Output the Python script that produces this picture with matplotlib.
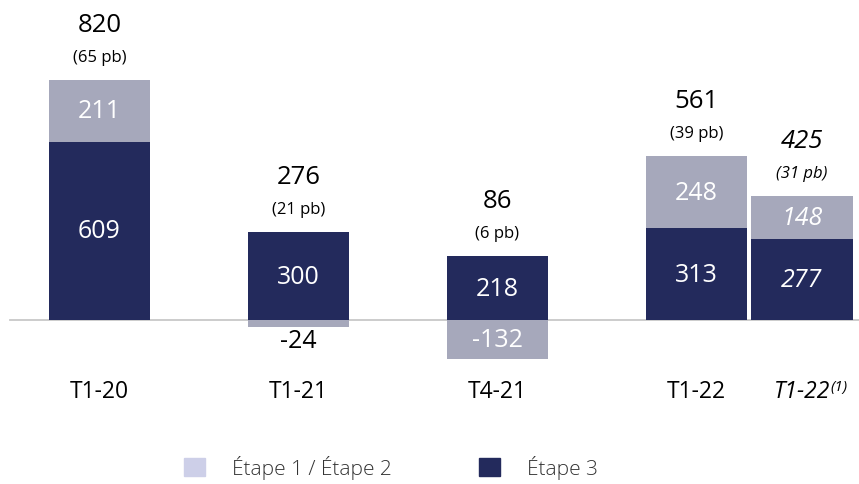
import matplotlib.pyplot as plt
from matplotlib.patches import Patch

plt.rcParams['font.family'] = ['Open Sans', 'DejaVu Sans']

# Data
periods = ['T1-20', 'T1-21', 'T4-21', 'T1-22', 'T1-22']
etape12 = [211, -24, -132, 248, 148]
etape3 = [609, 300, 218, 313, 277]
totals = [820, 276, 86, 561, 425]
pb = [65, 21, 6, 39, 31]
italic = [False, False, False, False, True]

xpos = [0, 1, 2, 3, 3.53]
dark = '#232A5C'
grey = '#A6A8BB'
legend_light = '#CDCFE8'

fig = plt.figure(figsize=(8.59, 4.85), dpi=100)
ax = fig.add_axes([0, 0, 1, 1])
ax.set_xlim(-0.5, 3.8166)
ax.set_ylim(-560.3, 1096.7)
ax.axis('off')

w = 0.508
ax.plot([-0.45, 3.8166], [0, 0], color='#C8C8C8', lw=1.3, zorder=1)

for i, x in enumerate(xpos):
    s3 = etape3[i]
    s12 = etape12[i]
    st = 'italic' if italic[i] else 'normal'
    ax.bar(x, s3, width=w, color=dark, zorder=2)
    if s12 >= 0:
        ax.bar(x, s12, bottom=s3, width=w, color=grey, zorder=2)
        top = s3 + s12
        ax.text(x, s3 + s12 / 2, str(s12), ha='center', va='center',
                color='white', fontsize=18, style=st)
    else:
        ax.bar(x, s12, width=w, color=grey, zorder=2)
        top = s3
        if s12 < -60:
            ax.text(x, s12 / 2, str(s12), ha='center', va='center',
                    color='white', fontsize=18, style=st)
        else:
            ax.annotate(str(s12), (x, s12), xytext=(0, -10), textcoords='offset points',
                        ha='center', va='center', fontsize=18, color='black')
    ax.text(x, s3 / 2, str(s3), ha='center', va='center', color='white',
            fontsize=18, style=st)

    ax.annotate(str(totals[i]), (x, top), xytext=(0, 40), textcoords='offset points',
                ha='center', va='center', fontsize=18.5, style=st)
    ax.annotate('(%d pb)' % pb[i], (x, top), xytext=(0, 16.5), textcoords='offset points',
                ha='center', va='center', fontsize=12, style=st)

    t = ax.text(x, -243, periods[i], ha='center', va='center', fontsize=16.5, style=st)
    if italic[i]:
        ax.annotate('(1)', xy=(1.0, 1.0), xycoords=t, ha='left', va='top',
                    fontsize=11, style='italic')

handles = [Patch(color=legend_light), Patch(color=dark)]
fig.legend(handles, ['Étape 1 / Étape 2', 'Étape 3'], loc='center',
           bbox_to_anchor=(0.455, 0.035), ncol=2, frameon=False,
           handlelength=1.0, handleheight=1.0, handletextpad=1.3,
           columnspacing=4.2, prop={'size': 15, 'weight': 'light'},
           labelcolor='#333333')

fig.savefig('out.png', dpi=100)
